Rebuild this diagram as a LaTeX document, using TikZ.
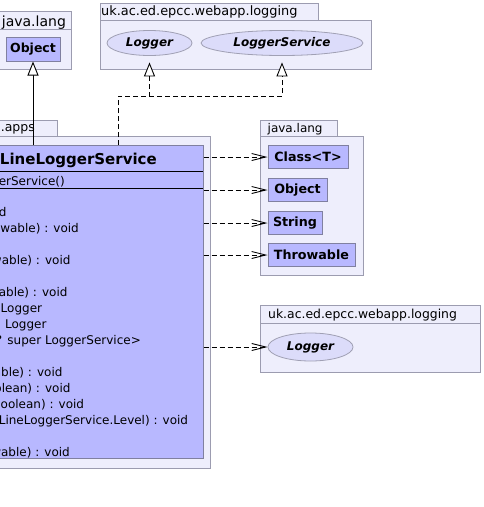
\documentclass[tikz,border=0pt]{standalone}
\usepackage{fontspec}
\setmainfont{DejaVu Sans}
\usetikzlibrary{arrows.meta,shapes.geometric}
\definecolor{pkgfill}{HTML}{EEEEFC}
\definecolor{pkgline}{HTML}{9C9CB0}
\definecolor{clsfill}{HTML}{B8B8FF}
\definecolor{clsline}{HTML}{8080A0}
\definecolor{ifcfill}{HTML}{DCDCFA}
\definecolor{ifcline}{HTML}{A0A0B4}
\begin{document}
\begin{tikzpicture}[x=1pt,y=-1pt,
 pkg/.style={draw=pkgline, fill=pkgfill, line width=1pt},
 clsbox/.style={draw=clsline, fill=clsfill, line width=1pt, inner sep=0},
 bbox/.style={clsbox, minimum height=22.5, font=\fontsize{12.7}{15}\selectfont\bfseries},
 ifc/.style={ellipse, draw=ifcline, fill=ifcfill, line width=0.8pt, inner sep=0, font=\fontsize{12}{14}\selectfont\bfseries\itshape},
 lbl/.style={inner sep=0, anchor=base west, font=\fontsize{12}{14}\selectfont},
 mline/.style={inner sep=0, anchor=base east, font=\fontsize{12}{14}\selectfont},
 dep/.style={dash pattern=on 5pt off 3pt, line width=0.9pt, -{Straight Barb[length=14pt,width=7pt]}},
 inh/.style={line width=0.9pt, -{Triangle[open,length=14pt,width=11pt,fill=white]}},
 real/.style={inh, dash pattern=on 5pt off 3pt}]
\useasboundingbox (0,0) rectangle (483,507);
% packages
\draw[pkg] (-2,11) rectangle (71,29);
\draw[pkg] (-2,29) rectangle (71,69);
\node[lbl, font=\fontsize{14}{16}\selectfont] (pjl1) at (1.7,26) {java.lang};
\draw[pkg] (100,3) rectangle (318,20.5);
\draw[pkg] (100,20.5) rectangle (371,69);
\node[lbl, font=\fontsize{12.9}{15}\selectfont] (plog1) at (101,15.5) {uk.ac.ed.epcc.webapp.logging};
\draw[pkg] (-2,120) rectangle (57,136);
\draw[pkg] (-2,136) rectangle (210.5,468.5);
\node[lbl, anchor=base east, font=\fontsize{12.5}{15}\selectfont] (papps) at (35,131.5) {.apps};
\draw[pkg] (260,120) rectangle (337,136);
\draw[pkg] (260,136) rectangle (363,275);
\node[lbl] (pjl2) at (267.5,132.5) {java.lang};
\draw[pkg] (260,305) rectangle (480,323);
\draw[pkg] (260,323) rectangle (480,372);
\node[lbl, font=\fontsize{12.4}{15}\selectfont] (plog2) at (268,318.3) {uk.ac.ed.epcc.webapp.logging};
% classes
\node[bbox, minimum width=54, minimum height=24, font=\fontsize{12.5}{15}\selectfont\bfseries] (obj1) at (33,49) {Object};
\node[bbox, minimum width=80] (ct) at (308,157) {Class<T>};
\node[bbox, minimum width=59] (obj2) at (297.5,190) {Object};
\node[bbox, minimum width=54] (str) at (295,223) {String};
\node[bbox, minimum width=87] (thr) at (311.5,255) {Throwable};
\node[ifc, minimum width=85, minimum height=25] (lg1) at (149.5,43) {Logger};
\node[ifc, minimum width=162, minimum height=25] (lgs) at (282,43) {LoggerService};
\node[ifc, minimum width=85, minimum height=28] (lg2) at (310.5,347) {Logger};
% main class
\node[clsbox, anchor=north west, minimum width=204.5, minimum height=313] (cls) at (-2,145) {};
\draw[line width=0.9pt] (-2,171.7) -- (202.5,171.7);
\draw[line width=0.9pt] (-2,188) -- (202.5,188);
\node[mline, font=\fontsize{15}{18}\selectfont\bfseries] (tt) at (157,164) {LineLoggerService};
\node[mline] (l0) at (65,185) {erService()};
\node[mline] (l2) at (6.7,216.5) {d};
\node[mline] (l3) at (79,232.5) {owable) : void};
\node[mline] (l5) at (70.7,264.5) {wable) : void};
\node[mline] (l7) at (67.7,296.5) {able) : void};
\node[mline] (l8) at (42.3,312.5) {Logger};
\node[mline] (l9) at (46.7,328.5) {Logger};
\node[mline] (l10) at (141,344.5) {? super LoggerService>};
\node[mline] (l12) at (62.7,376.5) {able) : void};
\node[mline] (l13) at (70.7,392.5) {olean) : void};
\node[mline] (l14) at (84.3,408.3) {oolean) : void};
\node[mline] (l15) at (188.3,424.2) {LineLoggerService.Level) : void};
\node[mline] (l17) at (70,456) {wable) : void};
% connectors
\draw[inh] (cls.north -| obj1.south) -- (obj1.south);
\coordinate (jn) at (118,96);
\draw[real, shorten >=6.5pt] (cls.north -| jn) -- (jn) -| (lg1.south);
\draw[real, shorten >=6.5pt] (cls.north -| jn) -- (jn) -| (lgs.south);
\draw[dep] (cls.east |- ct.west) -- (ct.west);
\draw[dep] (cls.east |- obj2.west) -- (obj2.west);
\draw[dep] (cls.east |- str.west) -- (str.west);
\draw[dep] (cls.east |- thr.west) -- (thr.west);
\draw[dep] (cls.east |- lg2.west) -- (lg2.west);
\end{tikzpicture}
\end{document}
